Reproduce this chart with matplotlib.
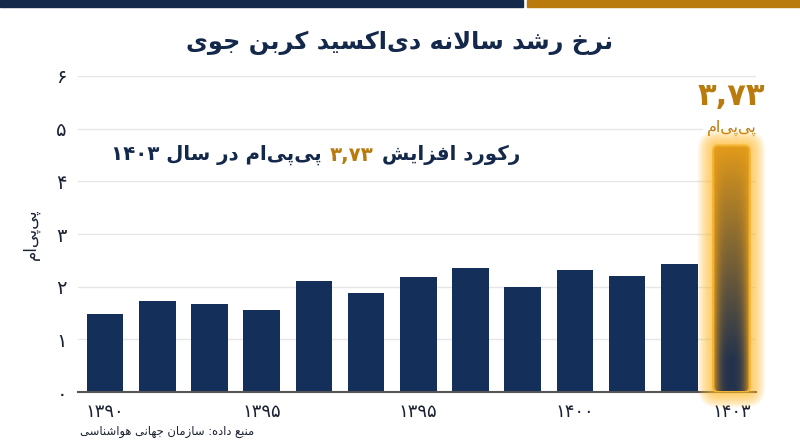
import re
import numpy as np
import matplotlib
matplotlib.use('Agg')
import matplotlib.pyplot as plt
from matplotlib.patches import FancyBboxPatch, Rectangle
from matplotlib.colors import to_rgb
from matplotlib.offsetbox import TextArea, HPacker, AnnotationBbox

# data (bar heights in axis units)
values = [1.48, 1.72, 1.67, 1.55, 2.11, 1.88, 2.18, 2.35, 1.99, 2.31, 2.20, 2.44, 4.68]
tick_pos = [0, 3, 6, 9, 12]
tick_labels = ['۱۳۹۰', '۱۳۹۵', '۱۳۹۵', '۱۴۰۰', '۱۴۰۳']
y_ticks = [0, 1, 2, 3, 4, 5, 6]
y_labels = ['۰', '۱', '۲', '۳', '۴', '۵', '۶']
record_label = '۳,۷۳'

title = 'نرخ رشد سالانه دی‌اکسید کربن جوی'
unit = 'پی‌پی‌ام'
head_right = 'رکورد افزایش'
head_left = 'پی‌پی‌ام در سال ۱۴۰۳'
source = 'منبع داده: سازمان جهانی هواشناسی'

NAVY = '#132f5a'
DARK = '#14284b'
GOLD = '#b97a0e'
FONT = ['DejaVu Sans']

# minimal Persian shaping: presentation forms + right-to-left order
FORMS = {
    'ا': ('\uFE8D', '\uFE8E', None, None),
    'ب': ('\uFE8F', '\uFE90', '\uFE91', '\uFE92'),
    'پ': ('\uFB56', '\uFB57', '\uFB58', '\uFB59'),
    'ت': ('\uFE95', '\uFE96', '\uFE97', '\uFE98'),
    'ج': ('\uFE9D', '\uFE9E', '\uFE9F', '\uFEA0'),
    'خ': ('\uFEA5', '\uFEA6', '\uFEA7', '\uFEA8'),
    'د': ('\uFEA9', '\uFEAA', None, None),
    'ر': ('\uFEAD', '\uFEAE', None, None),
    'ز': ('\uFEAF', '\uFEB0', None, None),
    'س': ('\uFEB1', '\uFEB2', '\uFEB3', '\uFEB4'),
    'ش': ('\uFEB5', '\uFEB6', '\uFEB7', '\uFEB8'),
    'ع': ('\uFEC9', '\uFECA', '\uFECB', '\uFECC'),
    'ف': ('\uFED1', '\uFED2', '\uFED3', '\uFED4'),
    'ک': ('\uFB8E', '\uFB8F', '\uFB90', '\uFB91'),
    'ل': ('\uFEDD', '\uFEDE', '\uFEDF', '\uFEE0'),
    'م': ('\uFEE1', '\uFEE2', '\uFEE3', '\uFEE4'),
    'ن': ('\uFEE5', '\uFEE6', '\uFEE7', '\uFEE8'),
    'ه': ('\uFEE9', '\uFEEA', '\uFEEB', '\uFEEC'),
    'و': ('\uFEED', '\uFEEE', None, None),
    'ی': ('\uFBFC', '\uFBFD', '\uFBFE', '\uFBFF'),
}


def fa(text):
    chars = list(text)
    n = len(chars)
    out = []
    i = 0
    while i < n:
        c = chars[i]
        if c == '\u200c':
            i += 1
            continue
        if c not in FORMS:
            out.append(c)
            i += 1
            continue
        prev = chars[i - 1] if i > 0 else ''
        p = prev in FORMS and FORMS[prev][2] is not None
        if c == 'ل' and i + 1 < n and chars[i + 1] == 'ا':
            out.append('\uFEFC' if p else '\uFEFB')
            i += 2
            continue
        nxt = chars[i + 1] if i + 1 < n else ''
        q = nxt in FORMS and FORMS[c][2] is not None
        iso, fin, ini, med = FORMS[c]
        if p and q:
            out.append(med)
        elif p:
            out.append(fin)
        elif q:
            out.append(ini)
        else:
            out.append(iso)
        i += 1
    vis = ''.join(out)[::-1]
    return re.sub(r'[۰-۹0-9][۰-۹0-9,.]*', lambda m: m.group(0)[::-1], vis)


fig = plt.figure(figsize=(8, 4.47), dpi=100)
ax = fig.add_axes([0.0975, 0.123, 0.8475, 0.707])

# top colour band
fig.patches.append(Rectangle((0, 0.984), 0.654, 0.016, transform=fig.transFigure,
                             color='#15294a', zorder=0))
fig.patches.append(Rectangle((0.659, 0.984), 0.341, 0.016, transform=fig.transFigure,
                             color='#b97a0e', zorder=0))

x = np.arange(len(values))
ax.bar(x[:-1], values[:-1], width=0.7, color=NAVY, zorder=2)

# highlighted last bar: glow, gradient fill, gold edge
bx, bv, bw = x[-1], values[-1], 0.7
for k in range(12):
    pad = 0.02 + k * 0.025
    g = FancyBboxPatch((bx - bw / 2, 0), bw, bv,
                       boxstyle='round,pad=%.3f,rounding_size=%.3f' % (pad, 0.1 + pad),
                       facecolor='#ffb820', edgecolor='none', alpha=0.085,
                       zorder=3, clip_on=False)
    ax.add_patch(g)

shape = FancyBboxPatch((bx - bw / 2, 0), bw, bv, boxstyle='round,pad=0,rounding_size=0.1',
                       facecolor='none', edgecolor='none', zorder=4)
ax.add_patch(shape)
ny, nx = 200, 60
yy = np.linspace(0, 1, ny)[:, None]
xx = np.linspace(-1, 1, nx)[None, :]
f = np.clip((1 - yy) * 1.15, 0, 1) ** 0.9 * (1 - np.abs(xx) ** 3)
top = np.array(to_rgb('#e59c19'))
bot = np.array(to_rgb('#24334d'))
img = top * (1 - f[..., None]) + bot * f[..., None]
im = ax.imshow(img, extent=(bx - bw / 2, bx + bw / 2, 0, bv), origin='lower',
               aspect='auto', zorder=4, interpolation='bilinear')
im.set_clip_path(shape)
ax.add_patch(FancyBboxPatch((bx - bw / 2, 0), bw, bv, boxstyle='round,pad=0,rounding_size=0.1',
                            facecolor='none', edgecolor='#f2b232', lw=1.5, zorder=5))

ax.annotate(fa(unit), xy=(bx, bv), xytext=(0, 7), textcoords='offset points',
            ha='center', va='bottom', fontsize=11.5, color=GOLD, family=FONT, zorder=2.5,
            bbox=dict(boxstyle='square,pad=0.25', fc='white', ec='none'))
ax.annotate(fa(record_label), xy=(bx, bv), xytext=(0, 25), textcoords='offset points',
            ha='center', va='bottom', fontsize=22, fontweight='bold', color=GOLD,
            family=FONT, zorder=6)

ax.set_xlim(-0.52, 12.47)
ax.set_ylim(0, 6)
ax.set_yticks(y_ticks)
ax.set_yticklabels(y_labels, family=FONT, fontsize=14, color='#1c2233')
ax.set_xticks(tick_pos)
ax.set_xticklabels([fa(t) for t in tick_labels], family=FONT, fontsize=13, color='#1c2233')
ax.tick_params(length=0, pad=8)
ax.grid(axis='y', color='#e6e6e6', lw=1, zorder=0)
ax.set_axisbelow(True)
for s in ['top', 'right', 'left']:
    ax.spines[s].set_visible(False)
ax.spines['bottom'].set_color('#555555')
ax.spines['bottom'].set_linewidth(1.5)
ax.set_ylabel(fa(unit), family=FONT, fontsize=12, color='#1c2233', labelpad=12)

fig.text(0.5, 0.905, fa(title), ha='center', va='center', fontsize=17.3,
         fontweight='bold', color=DARK, family=FONT)

# headline with a gold number in the middle
hp = dict(fontsize=14.2, fontweight='bold', family=FONT)
pack = HPacker(children=[TextArea(fa(head_left), textprops=dict(color=DARK, **hp)),
                         TextArea(fa(record_label), textprops=dict(color=GOLD, **hp)),
                         TextArea(fa(head_right), textprops=dict(color=DARK, **hp))],
               align='center', pad=0, sep=6)
ax.add_artist(AnnotationBbox(pack, (0.65, 0.653), xycoords='figure fraction',
                             box_alignment=(1, 0.5), frameon=False, pad=0, zorder=7))

fig.text(0.1, 0.035, fa(source), ha='left', va='center', fontsize=8.3,
         color='#1c2233', family=FONT)

fig.savefig('out.png', dpi=100)
